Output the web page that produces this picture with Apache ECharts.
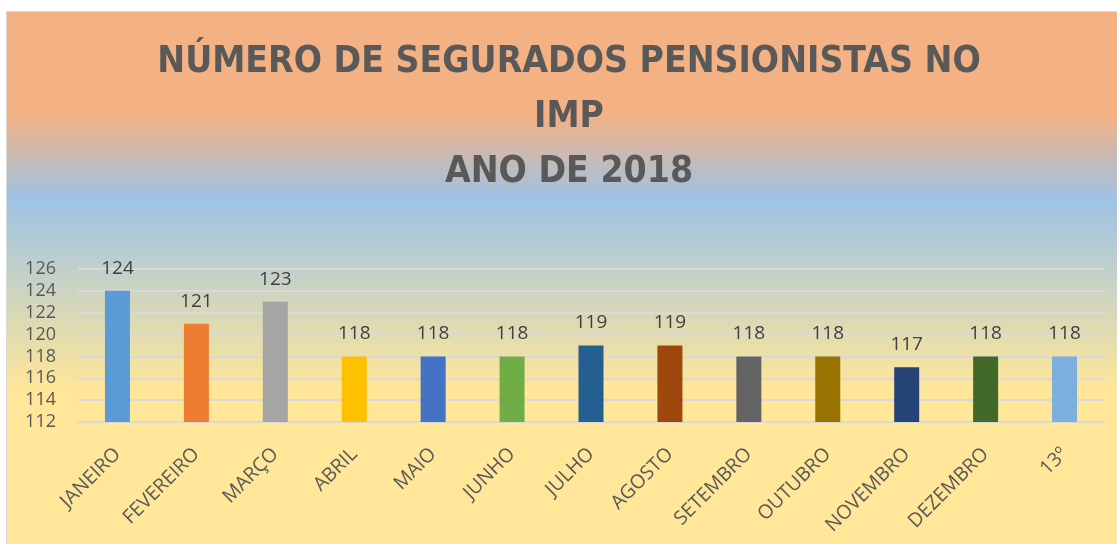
<!DOCTYPE html>
<html>
<head>
<meta charset="utf-8">
<script src="https://cdn.jsdelivr.net/npm/echarts@6/dist/echarts.min.js"></script>
<style>
  html, body { margin: 0; padding: 0; background: #fff; }
  #chart { width: 1117px; height: 544px; }
</style>
</head>
<body>
<div id="chart"></div>
<script>
const months = ['JANEIRO', 'FEVEREIRO', 'MARÇO', 'ABRIL', 'MAIO', 'JUNHO', 'JULHO', 'AGOSTO', 'SETEMBRO', 'OUTUBRO', 'NOVEMBRO', 'DEZEMBRO', '13º']
const pensionistas = [124, 121, 123, 118, 118, 118, 119, 119, 118, 118, 117, 118, 118]
const barColors = ['#5B9BD5', '#ED7D31', '#A5A5A5', '#FFC000', '#4472C4', '#70AD47', '#255E91', '#9E480E', '#636363', '#997300', '#264478', '#43682B', '#7CAFDD']
const titleLines = ['NÚMERO DE SEGURADOS PENSIONISTAS NO', 'IMP', 'ANO DE 2018']

const chart = echarts.init(document.getElementById('chart'))

// fundo em degradê (laranja -> azul -> amarelo)
const bg = new echarts.graphic.LinearGradient(0, 0, 0, 1, [
  { offset: 0, color: '#F4B183' },
  { offset: 0.19, color: '#F4B183' },
  { offset: 0.35, color: '#9DC3E6' },
  { offset: 0.70, color: '#FFE699' },
  { offset: 1, color: '#FFE699' }
])

chart.setOption({
  animation: false,
  graphic: [{
    type: 'rect',
    z: -10,
    silent: true,
    shape: { x: 6.5, y: 11.5, width: 1117, height: 540 },
    style: { fill: bg, stroke: '#D9D9D9', lineWidth: 1 }
  }, {
    // título em três linhas
    type: 'text',
    silent: true,
    x: 569,
    y: 35,
    style: {
      text: titleLines.join('\n'),
      align: 'center',
      verticalAlign: 'top',
      font: 'bold 37px "DejaVu Sans Condensed", sans-serif',
      lineHeight: 55,
      fill: '#595959'
    }
  }],
  grid: { left: 78, right: 13, top: 269, bottom: 122 },
  xAxis: {
    type: 'category',
    data: months,
    axisTick: { show: false },
    axisLine: { lineStyle: { color: '#D9D9D9', width: 2 } },
    axisLabel: {
      rotate: 45,
      margin: 29,
      interval: 0,
      fontSize: 19.5,
      color: '#595959',
      fontFamily: 'Open Sans, sans-serif'
    }
  },
  yAxis: {
    type: 'value',
    min: 112,
    max: 126,
    interval: 2,
    axisLine: { show: false },
    axisTick: { show: false },
    splitLine: { lineStyle: { color: '#D9D9D9', width: 2 } },
    axisLabel: {
      margin: 22,
      fontSize: 18,
      color: '#595959',
      fontFamily: 'Open Sans, sans-serif'
    }
  },
  series: [{
    type: 'bar',
    barWidth: 25,
    data: pensionistas.map((v, i) => ({ value: v, itemStyle: { color: barColors[i] } })),
    label: {
      show: true,
      position: 'top',
      distance: 13,
      fontSize: 19,
      color: '#404040',
      fontFamily: 'Open Sans, sans-serif'
    }
  }]
})
</script>
</body>
</html>
